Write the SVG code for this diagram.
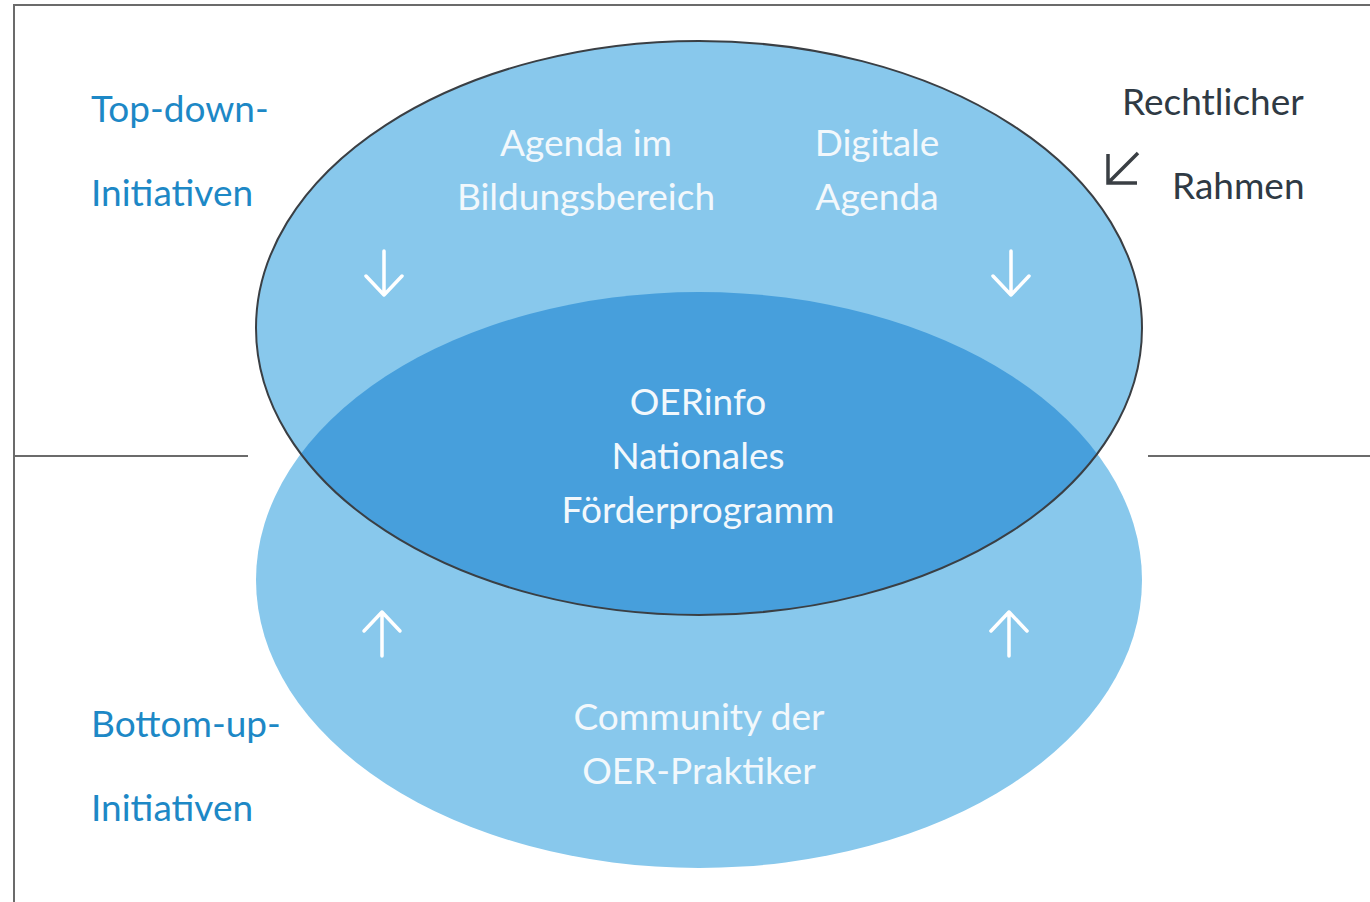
<svg xmlns="http://www.w3.org/2000/svg" width="1370" height="902" viewBox="0 0 1370 902">
<defs>
<style>
.lbl{font-family:Lato,"Open Sans","Liberation Sans",sans-serif;font-size:37px;fill:#1d88c6}
.blk{font-family:Lato,"Open Sans","Liberation Sans",sans-serif;font-size:37px;fill:#2f3a44}
.wht{font-family:Lato,"Open Sans","Liberation Sans",sans-serif;font-size:37px;fill:#f2f8fc;text-anchor:middle}
.arr{fill:none;stroke:#ffffff;stroke-width:3.5;stroke-linecap:round;stroke-linejoin:round}
.frame{fill:none;stroke:#6b6b6b;stroke-width:2}
</style>
<clipPath id="topClip"><ellipse cx="699" cy="328" rx="443" ry="287"/></clipPath>
</defs>
<rect width="1370" height="902" fill="#ffffff"/>
<g id="frame">
<path class="frame" d="M14,902 V5 H1370"/>
<line class="frame" x1="14" y1="456" x2="248" y2="456"/>
<line class="frame" x1="1148" y1="456" x2="1370" y2="456"/>
</g>
<g id="bottom-ellipse">
<ellipse cx="699" cy="580" rx="443" ry="288" fill="#88c8ec"/>
</g>
<g id="top-ellipse">
<ellipse cx="699" cy="328" rx="443" ry="287" fill="#88c8ec"/>
</g>
<g id="overlap">
<ellipse cx="699" cy="580" rx="443" ry="288" fill="#479fdc" clip-path="url(#topClip)"/>
<ellipse cx="699" cy="328" rx="443" ry="287" fill="none" stroke="#3a3f44" stroke-width="2"/>
</g>
<g id="labels">
<text class="lbl" x="91" y="122">Top-down-</text>
<text class="lbl" x="91" y="206">Initiativen</text>
<text class="lbl" x="91" y="737">Bottom-up-</text>
<text class="lbl" x="91" y="821">Initiativen</text>
<text class="blk" x="1122" y="115">Rechtlicher</text>
<text class="blk" x="1172" y="199">Rahmen</text>
</g>
<g id="node-agenda-bildung">
<text class="wht" x="586" y="156">Agenda im</text>
<text class="wht" x="586" y="210">Bildungsbereich</text>
</g>
<g id="node-digitale-agenda">
<text class="wht" x="877" y="156">Digitale</text>
<text class="wht" x="877" y="210">Agenda</text>
</g>
<g id="node-oerinfo">
<text class="wht" x="698" y="415">OERinfo</text>
<text class="wht" x="698" y="469">Nationales</text>
<text class="wht" x="698" y="523">Förderprogramm</text>
</g>
<g id="node-community">
<text class="wht" x="699" y="730">Community der</text>
<text class="wht" x="699" y="784">OER-Praktiker</text>
</g>
<g id="connectors">
<path class="arr" d="M384,251 V295 M366,276 L384,295 L402,276"/>
<path class="arr" d="M1011,251 V295 M993,276 L1011,295 L1029,276"/>
<path class="arr" d="M382,656 V612 M364,631 L382,612 L400,631"/>
<path class="arr" d="M1009,656 V612 M991,631 L1009,612 L1027,631"/>
<path d="M1138,153 L1109,182 M1108,154 V183 H1137" fill="none" stroke="#3a3f44" stroke-width="3.5"/>
</g>
</svg>
